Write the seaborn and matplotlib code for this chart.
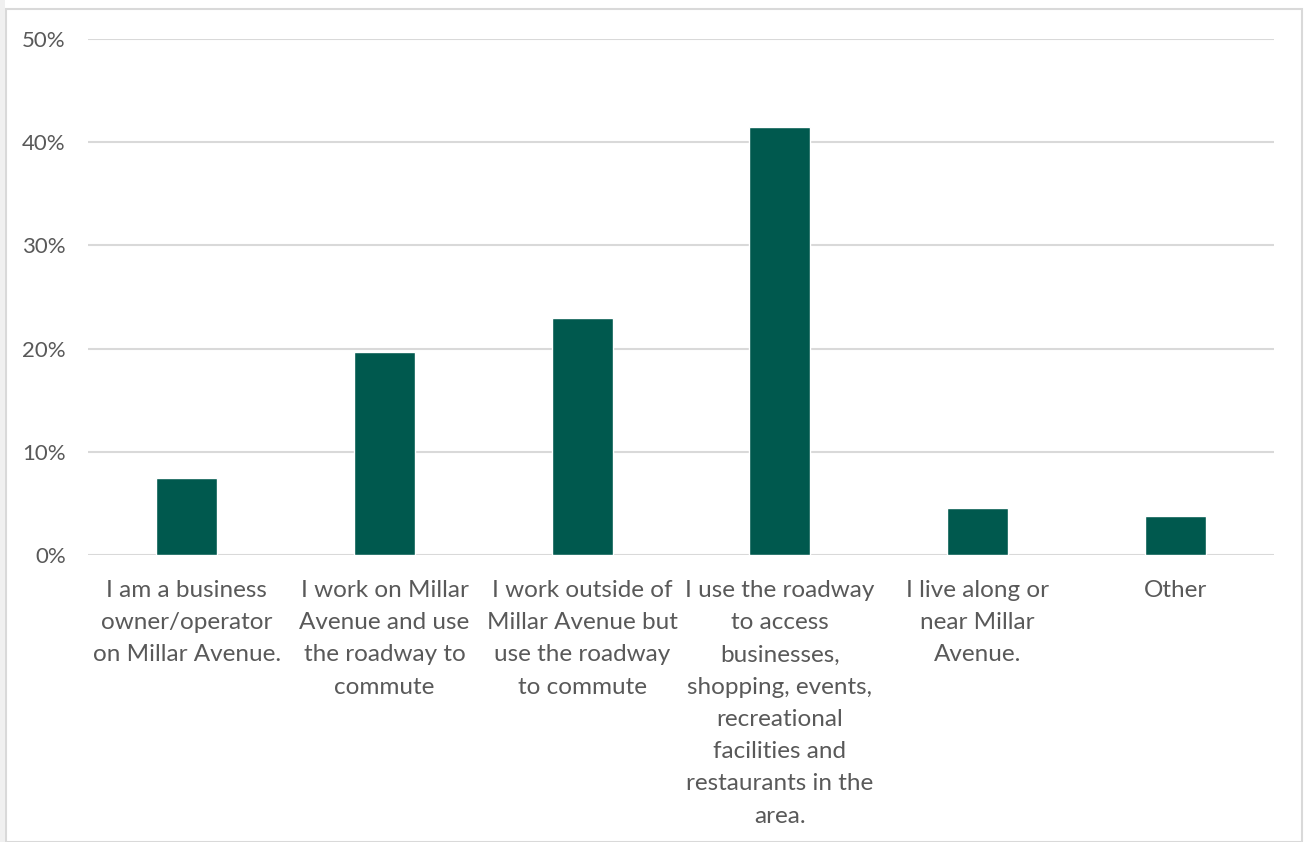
import matplotlib
matplotlib.use("Agg")
import matplotlib.pyplot as plt
import seaborn as sns
import pandas as pd
from matplotlib.ticker import FuncFormatter, MultipleLocator
from matplotlib.patches import Rectangle

categories = [
    "I am a business\nowner/operator\non Millar Avenue.",
    "I work on Millar\nAvenue and use\nthe roadway to\ncommute",
    "I work outside of\nMillar Avenue but\nuse the roadway\nto commute",
    "I use the roadway\nto access\nbusinesses,\nshopping, events,\nrecreational\nfacilities and\nrestaurants in the\narea.",
    "I live along or\nnear Millar\nAvenue.",
    "Other",
]
values = [7.5, 19.7, 23.0, 41.5, 4.6, 3.8]

df = pd.DataFrame({"category": categories, "value": values})

sns.set_theme(style="white")
plt.rcParams["font.family"] = ["Lato", "DejaVu Sans"]

fig = plt.figure(figsize=(13.04, 8.42), dpi=100)
ax = fig.add_axes([88/1304, 287/842, (1274-88)/1304, (555-39)/842])

sns.barplot(data=df, x="category", y="value", color="#00594E", width=0.31,
            saturation=1, ax=ax, zorder=3)

ax.set_ylim(0, 50)
ax.yaxis.set_major_locator(MultipleLocator(10))
ax.yaxis.set_major_formatter(FuncFormatter(lambda v, p: f"{int(v)}%"))
ax.grid(axis="y", color="#D9D9D9", linewidth=1.5, zorder=0)
ax.set_axisbelow(True)
for s in ax.spines.values():
    s.set_visible(False)
ax.set_xlabel("")
ax.set_ylabel("")
ax.tick_params(axis="both", length=0, labelcolor="#595959")
ax.tick_params(axis="y", pad=16, labelsize=16)
ax.tick_params(axis="x", pad=18, labelsize=17.5)
for lab in ax.get_xticklabels():
    lab.set_linespacing(1.66)
    lab.set_verticalalignment("top")

# outer chart border
fig.patches.append(Rectangle((6/1304, 0), (1302-6)/1304, (842-9)/842,
                             transform=fig.transFigure, fill=False,
                             edgecolor="#D9D9D9", linewidth=1.5))
fig.patches.append(Rectangle((0, 0), 5/1304, 1, transform=fig.transFigure,
                             facecolor="#F0F0F0", edgecolor="none"))

fig.savefig("out.png", dpi=100)
